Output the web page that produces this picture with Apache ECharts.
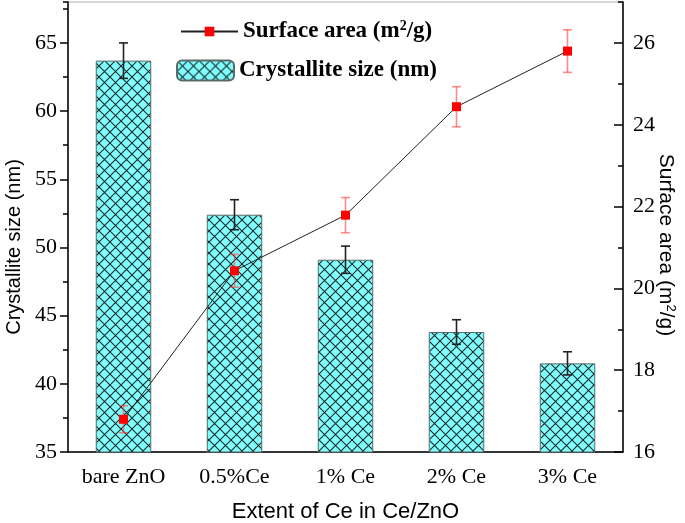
<!DOCTYPE html>
<html>
<head>
<meta charset="utf-8">
<script src="https://cdn.jsdelivr.net/npm/echarts@6/dist/echarts.min.js"></script>
<style>
html,body{margin:0;padding:0;background:#fff;}
#chart{width:685px;height:523px;}
</style>
</head>
<body>
<div id="chart"></div>
<script>
// ---- data ----
const categories = ['bare ZnO', '0.5%Ce', '1% Ce', '2% Ce', '3% Ce'];
const crystalliteSize = [63.7, 52.4, 49.1, 43.8, 41.5];
const crystalliteErr = [1.3, 1.1, 1.0, 0.9, 0.85];
const surfaceArea = [16.8, 20.43, 21.79, 24.44, 25.8];
const surfaceErr = [0.33, 0.4, 0.43, 0.49, 0.52];
const leftTicks = [35, 40, 45, 50, 55, 60, 65];
const rightTicks = [16, 18, 20, 22, 24, 26];

// ---- hatch pattern ----
function makeHatch() {
  const s = 11;
  const c = document.createElement('canvas');
  c.width = s; c.height = s;
  const ctx = c.getContext('2d');
  ctx.fillStyle = '#80ffff';
  ctx.fillRect(0, 0, s, s);
  ctx.strokeStyle = '#1a2a2a';
  ctx.lineWidth = 1.1;
  ctx.beginPath();
  ctx.moveTo(0, 0); ctx.lineTo(s, s);
  ctx.moveTo(s, 0); ctx.lineTo(0, s);
  ctx.stroke();
  return c;
}
const hatch = { image: makeHatch(), repeat: 'repeat' };

const serif = 'Liberation Serif';
const sans = 'Liberation Sans';

function errRender(color, lw, halfCap) {
  return function (params, api) {
    const x = api.value(0);
    const lo = api.coord([x, api.value(1)]);
    const hi = api.coord([x, api.value(2)]);
    const st = { stroke: color, lineWidth: lw };
    return {
      type: 'group',
      children: [
        { type: 'line', shape: { x1: hi[0], y1: hi[1], x2: lo[0], y2: lo[1] }, style: st },
        { type: 'line', shape: { x1: hi[0] - halfCap, y1: hi[1], x2: hi[0] + halfCap, y2: hi[1] }, style: st },
        { type: 'line', shape: { x1: lo[0] - halfCap, y1: lo[1], x2: lo[0] + halfCap, y2: lo[1] }, style: st }
      ]
    };
  };
}

const barErrData = categories.map((c, i) => [i, crystalliteSize[i] - crystalliteErr[i], crystalliteSize[i] + crystalliteErr[i]]);
const lineErrData = categories.map((c, i) => [i, surfaceArea[i] - surfaceErr[i], surfaceArea[i] + surfaceErr[i]]);

const chart = echarts.init(document.getElementById('chart'), null, { renderer: 'canvas' });

const legendText = {
  fontFamily: serif, fontWeight: 'bold', fontSize: 23, color: '#000',
  rich: {
    a: { fontFamily: serif, fontWeight: 'bold', fontSize: 23, color: '#000' },
    s: { fontFamily: serif, fontWeight: 'bold', fontSize: 14, color: '#000', padding: [0, 0, 11, 0] }
  }
};

const tickLine = { color: '#000', width: 1.5 };

chart.setOption({
  animation: false,
  backgroundColor: '#fff',
  grid: { left: 68, right: 62, top: 2, bottom: 71, show: true, borderColor: '#aaa', borderWidth: 1,
    containLabel: false, outerBoundsMode: 'none' },
  legend: [
    {
      data: ['Surface area'], left: 180, top: 19, padding: 0, itemWidth: 57, itemHeight: 12,
      formatter: () => '{a|Surface area (m}{s|2}{a|/g)}',
      textStyle: legendText
    },
    {
      data: ['Crystallite size'], left: 176, top: 59, padding: 0, itemWidth: 57, itemHeight: 20,
      formatter: () => '{a|Crystallite size (nm)}',
      textStyle: legendText
    }
  ],
  xAxis: {
    type: 'category',
    data: categories,
    name: 'Extent of Ce in Ce/ZnO',
    nameLocation: 'middle',
    nameGap: 49,
    nameMoveOverlap: false,
    nameTextStyle: { fontFamily: sans, fontSize: 22, color: '#000' },
    axisLine: { lineStyle: { color: '#000', width: 1.5 } },
    axisTick: { alignWithLabel: true, length: 8, lineStyle: tickLine },
    axisLabel: { fontFamily: serif, fontSize: 22, color: '#000', margin: 14, interval: 0, hideOverlap: false }
  },
  yAxis: [
    {
      type: 'value', min: 35, max: 68, interval: 5,
      name: 'Crystallite size (nm)',
      nameLocation: 'middle', nameGap: 44, nameRotate: 90, nameMoveOverlap: false,
      nameTextStyle: { fontFamily: sans, fontSize: 20, color: '#000', padding: [0, 40, 0, 0] },
      axisLine: { show: true, lineStyle: { color: '#000', width: 1.5 } },
      axisTick: { show: true, length: 8, lineStyle: tickLine, customValues: leftTicks },
      splitLine: { show: false },
      axisLabel: { fontFamily: serif, fontSize: 22, color: '#000', margin: 11, customValues: leftTicks,
        formatter: v => leftTicks.includes(v) ? String(v) : '' }
    },
    {
      type: 'value', min: 16, max: 27, interval: 2,
      name: '{a|Surface area (m}{s|2}{a|/g)}',
      nameLocation: 'middle', nameGap: 31, nameRotate: -90, nameMoveOverlap: false,
      nameTextStyle: {
        fontFamily: sans, fontSize: 21, color: '#000', padding: [0, 0, 0, 36],
        rich: {
          a: { fontFamily: sans, fontSize: 21, color: '#000' },
          s: { fontFamily: sans, fontSize: 13, color: '#000', padding: [0, 0, 10, 0] }
        }
      },
      axisLine: { show: true, lineStyle: { color: '#000', width: 1.5 } },
      axisTick: { show: true, inside: true, length: 9, lineStyle: tickLine, customValues: rightTicks },
      splitLine: { show: false },
      axisLabel: { fontFamily: serif, fontSize: 22, color: '#000', margin: 10, customValues: rightTicks,
        formatter: v => rightTicks.includes(v) ? String(v) : '' }
    },
    {
      // minor ticks, left
      type: 'value', position: 'left', min: 35, max: 68, interval: 2.5,
      axisLine: { show: false }, axisLabel: { show: false }, splitLine: { show: false },
      axisTick: { show: true, length: 5, lineStyle: tickLine }
    },
    {
      // minor ticks, right
      type: 'value', position: 'right', min: 16, max: 27, interval: 1,
      axisLine: { show: false }, axisLabel: { show: false }, splitLine: { show: false },
      axisTick: { show: true, inside: true, length: 5, lineStyle: tickLine }
    }
  ],
  series: [
    {
      name: 'Crystallite size', type: 'bar', data: crystalliteSize, barWidth: '50%',
      itemStyle: { color: hatch, borderColor: '#5a6a6a', borderWidth: 1 }, z: 2
    },
    {
      name: 'barErr', type: 'custom', data: barErrData, renderItem: errRender('#222', 1.6, 4.5),
      encode: { x: 0, y: [1, 2] }, z: 3, silent: true
    },
    {
      name: 'lineErr', type: 'custom', yAxisIndex: 1, data: lineErrData,
      renderItem: errRender('rgba(255,60,60,0.6)', 1.6, 4.5),
      encode: { x: 0, y: [1, 2] }, z: 4, silent: true
    },
    {
      name: 'Surface area', type: 'line', yAxisIndex: 1, data: surfaceArea,
      symbol: 'rect', symbolSize: 9,
      lineStyle: { color: '#222', width: 1 },
      itemStyle: { color: '#ff0000' }, z: 5
    }
  ]
});
</script>
</body>
</html>
